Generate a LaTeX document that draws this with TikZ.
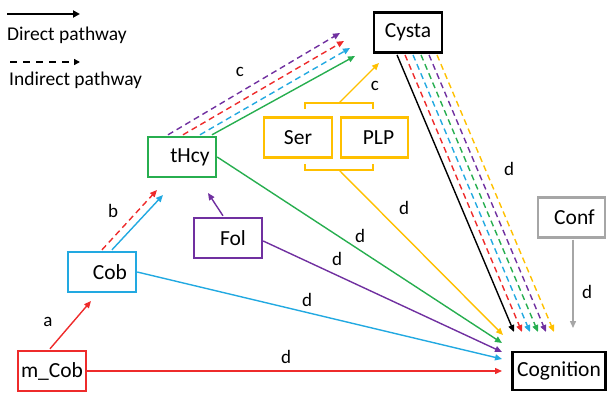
\documentclass[tikz,border=0pt]{standalone}
\usepackage{fontspec}
\setmainfont{Carlito}
\usetikzlibrary{arrows.meta,calc}
\definecolor{cred}{HTML}{EE2B2B}
\definecolor{cblue}{HTML}{22A9E1}
\definecolor{cgreen}{HTML}{27AE4F}
\definecolor{cpurple}{HTML}{7030A0}
\definecolor{cyellow}{HTML}{FFC000}
\definecolor{cgray}{HTML}{A6A6A6}
\tikzset{
  box/.style={draw=#1, line width=2.4pt, minimum width=68pt, minimum height=40pt, inner sep=0pt, font=\fontsize{21.5}{25}\selectfont},
  arr/.style={draw=#1, line width=1.4pt, -{Triangle[length=7pt,width=6pt]}},
  dsh/.style={arr=#1, dash pattern=on 6pt off 4pt},
  lab/.style={font=\fontsize{19}{23}\selectfont, inner sep=0pt},
  legtxt/.style={font=\fontsize{19.5}{23}\selectfont, inner sep=0pt, anchor=west},
}
\begin{document}
\begin{tikzpicture}[x=1pt,y=-1pt]
\useasboundingbox (0,0) rectangle (607,396);
% boxes
\node[box=black, line width=2.8pt] (cysta) at (408,32.5) {Cysta};
\node[box=cgreen] (thcy) at (182,157) {\hspace*{16pt}tHcy};
\node[box=cyellow] (ser) at (298,137.5) {Ser};
\node[box=cyellow, minimum width=67pt] (plp) at (374.5,137.5) {\hspace*{8pt}PLP};
\node[box=cblue] (cob) at (102,272) {\hspace*{16pt}Cob};
\node[box=cpurple] (fol) at (228,238) {\hspace*{10pt}Fol};
\node[box=cred] (mcob) at (52,371) {m\_Cob};
\node[box=cgray, minimum width=67pt] (conf) at (571.5,217.5) {\hspace*{6pt}Conf};
\node[box=black, line width=2.8pt, minimum width=93pt, minimum height=38pt] (cogn) at (559,371) {Cognition};
% legend
\coordinate (l1a) at (7,14); \coordinate (l1b) at (80,14);
\coordinate (l2a) at (10,62); \coordinate (l2b) at (80,62);
\draw[line width=2.2pt, -{Triangle[length=7pt,width=7pt]}] (l1a) -- (l1b);
\draw[line width=2.4pt, dash pattern=on 7pt off 6pt, -{Triangle[length=6pt,width=6pt]}] (l2a) -- (l2b);
\node[legtxt] (lt1) at (7,35) {Direct pathway};
\node[legtxt] (lt2) at (9,80) {Indirect pathway};
% brackets
\coordinate (bt) at (339,103);
\coordinate (bb) at (339,170);
\draw[cyellow, line width=1.4pt] ($(bt)+(-34,6)$) -- ($(bt)+(-34,0)$) -- ($(bt)+(34,0)$) -- ($(bt)+(34,6)$);
\draw[cyellow, line width=1.4pt] ($(bb)+(-34,-6)$) -- ($(bb)+(-34,0)$) -- ($(bb)+(34,0)$) -- ($(bb)+(34,-6)$);
% free ends
\coordinate (e1) at (91,301);
\coordinate (e2r) at (157,190);
\coordinate (e2b) at (163,195);
\coordinate (e3) at (208,193);
\coordinate (cp) at (340,33);
\coordinate (cr) at (344,41);
\coordinate (cb) at (350,48);
\coordinate (cg) at (355,56);
\coordinate (cy) at (379,63);
\coordinate (gr) at (502,371);
\coordinate (gb) at (502,359);
\coordinate (gp) at (502,352);
\coordinate (gg) at (502,343);
\coordinate (gy) at (503,335);
\coordinate (k0) at (514,332);
\coordinate (k1) at (522,332);
\coordinate (k2) at (530,332);
\coordinate (k3) at (538,332);
\coordinate (k4) at (546,332);
\coordinate (k5) at (554,332);
\coordinate (kc) at (573,328);
% arrows
\draw[arr=cred] ($(mcob.north)+(-2,-1)$) -- (e1);
\draw[dsh=cred] ($(cob.north)+(0,-1)$) -- (e2r);
\draw[arr=cblue] ($(cob.north)+(10,-1)$) -- (e2b);
\draw[arr=cpurple] ($(fol.north)+(-5,-1)$) -- (e3);
\draw[dsh=cpurple] ($(thcy.north)+(-14,-1)$) -- (cp);
\draw[dsh=cred] ($(thcy.north)+(1,-1)$) -- (cr);
\draw[dsh=cblue] ($(thcy.north)+(18,-1)$) -- (cb);
\draw[arr=cgreen] ($(thcy.north)+(30,-1)$) -- (cg);
\draw[arr=cyellow] (bt) -- (cy);
\draw[arr=cred] (mcob.east) -- (gr);
\draw[arr=cblue] (cob.east) -- (gb);
\draw[arr=cpurple] ($(fol.east)+(0,3)$) -- (gp);
\draw[arr=cgreen] (thcy.east) -- (gg);
\draw[arr=cyellow] (bb) -- (gy);
\draw[arr=black] ($(cysta.south)+(-11,1)$) -- (k0);
\draw[dsh=cred] ($(cysta.south)+(-3,1)$) -- (k1);
\draw[dsh=cblue] ($(cysta.south)+(5,1)$) -- (k2);
\draw[dsh=cgreen] ($(cysta.south)+(13,1)$) -- (k3);
\draw[dsh=cpurple] ($(cysta.south)+(21,1)$) -- (k4);
\draw[dsh=cyellow] ($(cysta.south)+(29,1)$) -- (k5);
\draw[arr=cgray] ($(conf.south)+(1.5,1)$) -- (kc);
% labels
\node[lab] (la) at (48,322) {a};
\node[lab] (lb) at (113,211) {b};
\node[lab] (lc1) at (240,72) {c};
\node[lab] (lc2) at (375,86) {c};
\node[lab] (ld1) at (286,357) {d};
\node[lab] (ld2) at (307,300) {d};
\node[lab] (ld3) at (337,259) {d};
\node[lab] (ld4) at (360,236) {d};
\node[lab] (ld5) at (404,208) {d};
\node[lab] (ld6) at (509,169) {d};
\node[lab] (ld7) at (587,292) {d};
\end{tikzpicture}
\end{document}
